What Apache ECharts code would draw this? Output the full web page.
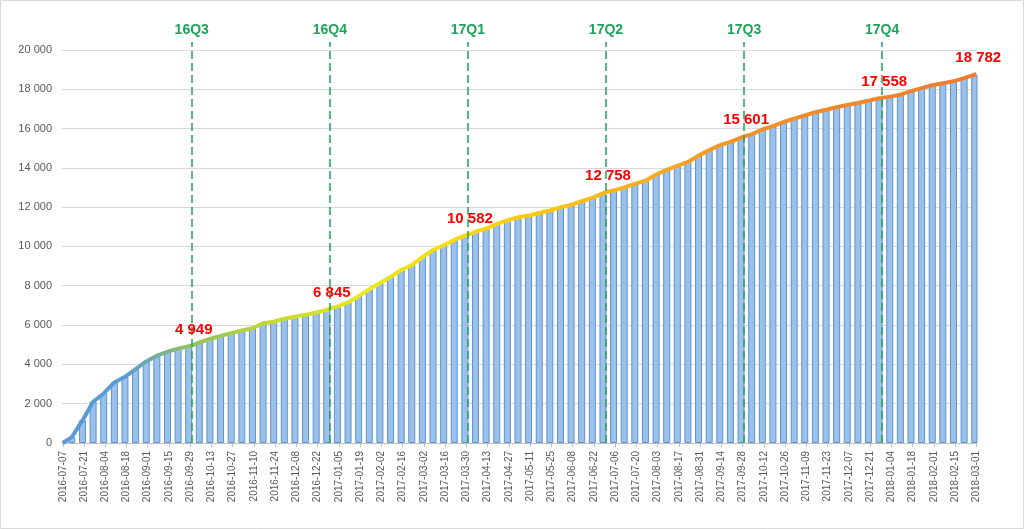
<!DOCTYPE html>
<html><head><meta charset="utf-8">
<script src="https://cdn.jsdelivr.net/npm/echarts@6/dist/echarts.min.js"></script>
<style>html,body{margin:0;padding:0;background:#fff}#c{width:1024px;height:529px}</style>
</head><body><div id="c"></div>
<script>
// ---- data ----
const startDate = '2016-07-07';
const endDate = '2018-03-01';
const firstWeekDate = '2016-07-13';
const startValue = 0;
const weeklyValues = [
  300,1150,2100,2520,3080,3370,3760,4150,4440,4640,
  4800,4920,5120,5290,5450,5590,5720,5840,6090,6170,
  6320,6420,6520,6640,6770,6940,7150,7470,7820,8140,
  8440,8800,9050,9460,9820,10060,10330,10560,10750,10900,
  11150,11330,11480,11570,11700,11830,11990,12110,12300,12470,
  12700,12850,13000,13180,13340,13650,13900,14100,14300,14620,
  14900,15150,15320,15540,15700,15950,16120,16330,16500,16660,
  16830,16950,17080,17200,17300,17420,17540,17620,17720,17900,
  18050,18200,18300,18400,18560,18740
];
const quarterDates = ['2016-09-30','2016-12-30','2017-03-31','2017-06-30','2017-09-29','2017-12-29'];
const quarterNames = ['16Q3','16Q4','17Q1','17Q2','17Q3','17Q4'];
const labelDates = ['2016-09-30','2016-12-30','2017-03-31','2017-06-30','2017-09-29','2017-12-29','2018-03-01'];
const labelValues = [4949,6845,10582,12758,15601,17558,18782];

// ---- build ----
function fmt(v){ return String(v).replace(/\B(?=(\d{3})+(?!\d))/g,' '); }
const days = [];
for (let t = Date.parse(startDate+'T00:00:00Z'); t <= Date.parse(endDate+'T00:00:00Z'); t += 86400000) {
  days.push(new Date(t).toISOString().slice(0,10));
}
const idx = {}; days.forEach((d,i)=>{ idx[d]=i; });
const barData = days.map(()=>null);
const lineData = days.map(()=>null);
lineData[0] = startValue;
const w0 = idx[firstWeekDate];
weeklyValues.forEach((v,k)=>{ barData[w0+7*k]=v; lineData[w0+7*k]=v; });
labelDates.forEach((d,i)=>{ lineData[idx[d]] = labelValues[i]; });

const FONT = "'Liberation Sans', Arial, sans-serif";
const green = '#1ea35a';
const chart = echarts.init(document.getElementById('c'), null, {renderer:'canvas'});
chart.setOption({
  animation: false,
  backgroundColor: '#fff',
  textStyle: {fontFamily: FONT},
  graphic: [{type:'rect', silent:true, shape:{x:0.5,y:0.5,width:1023,height:528}, style:{fill:'none', stroke:'#d9d9d9', lineWidth:1}}],
  grid: {left: 62, right: 47, top: 42, bottom: 86},
  xAxis: {
    type: 'category', data: days, boundaryGap: true,
    axisLine: {lineStyle: {color: '#bfbfbf'}},
    axisTick: {show: true, interval: 13, alignWithLabel: true, length: 4, lineStyle: {color: '#bfbfbf'}},
    axisLabel: {interval: 13, rotate: 90, fontSize: 10, color: '#595959', margin: 8, fontFamily: FONT},
    splitLine: {show: false}
  },
  yAxis: {
    type: 'value', min: 0, max: 20400, interval: 2000,
    axisLine: {show: false}, axisTick: {show: false},
    axisLabel: {formatter: fmt, fontSize: 11, color: '#595959', margin: 10, showMaxLabel: false, fontFamily: FONT},
    splitLine: {show: true, showMaxLine: false, lineStyle: {color: '#d9d9d9', width: 1}}
  },
  series: [
    {
      type: 'bar', data: barData, barWidth: 7, z: 2,
      itemStyle: {color: '#9cc1e8', borderColor: '#5b93d5', borderWidth: 1}
    },
    {
      type: 'line', data: lineData, connectNulls: true, showSymbol: false, symbol: 'none', z: 4,
      lineStyle: {
        width: 4,
        color: {type:'linear', x:0, y:0, x2:1, y2:0, colorStops:[
          {offset:0, color:'#5b9bd5'},
          {offset:0.07, color:'#5b9bd5'},
          {offset:0.14, color:'#92c060'},
          {offset:0.24, color:'#c8da30'},
          {offset:0.33, color:'#e8e820'},
          {offset:0.42, color:'#f8dc10'},
          {offset:0.52, color:'#fcc810'},
          {offset:0.62, color:'#f9b020'},
          {offset:0.75, color:'#f39028'},
          {offset:1, color:'#ed7d31'}
        ]}
      },
      markLine: {
        silent: true, symbol: ['none','none'], animation: false,
        lineStyle: {type: [8,4], color: green, width: 1.5},
        label: {show: true, position: 'end', formatter: '{b}', color: green, fontWeight: 'bold', fontSize: 14, fontFamily: FONT, distance: 5},
        data: quarterDates.map((d,i)=>({xAxis: d, name: quarterNames[i]}))
      },
      markPoint: {
        silent: true, symbol: 'circle', symbolSize: 1,
        itemStyle: {color: 'rgba(0,0,0,0)'},
        label: {show: true, position: 'top', distance: 8, offset: [2,0], color: '#ff0000', fontWeight: 'bold', fontSize: 15, fontFamily: FONT,
          formatter: p => fmt(p.value)},
        data: labelDates.map((d,i)=>({coord: [d, labelValues[i]], value: labelValues[i]}))
      }
    }
  ]
});
</script></body></html>
